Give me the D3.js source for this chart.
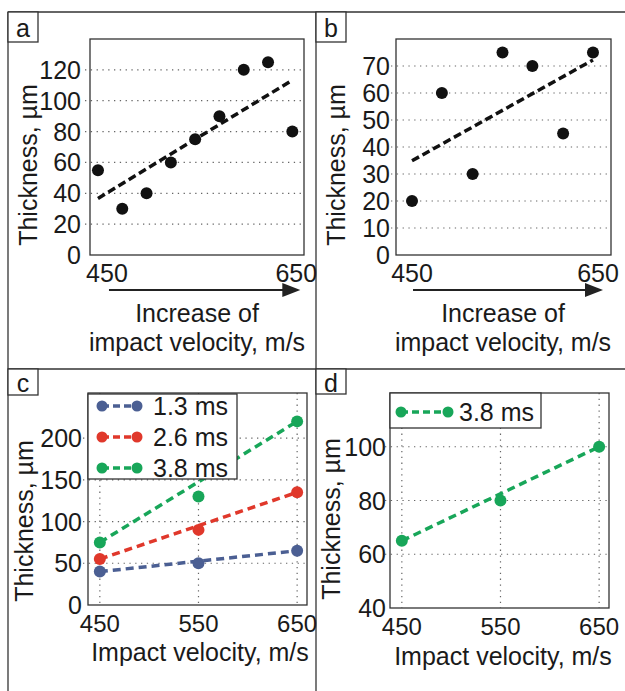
<!DOCTYPE html>
<html>
<head>
<meta charset="utf-8">
<script src="https://cdn.jsdelivr.net/npm/d3@7"></script>
<style>
  body { margin: 0; background: #fff; }
  text { font-family: "Liberation Sans", Arial, sans-serif; fill: #1a1a1a; }
</style>
</head>
<body>
<div id="wrapper"></div>
<script>
// data
const velA = [450, 475, 500, 525, 550, 575, 600, 625, 650];
const thickA = [55, 30, 40, 60, 75, 90, 120, 125, 80];
const velB = [450, 483, 517, 550, 583, 617, 650];
const thickB = [20, 60, 30, 75, 70, 45, 75];
const velC = [450, 550, 650];
const seriesC = ['1.3 ms', '2.6 ms', '3.8 ms'];
const thick13 = [40, 50, 65];
const thick26 = [55, 90, 135];
const thick38 = [75, 130, 220];
const thickD = [65, 80, 100];
const ticksA = [0, 20, 40, 60, 80, 100, 120];
const ticksB = [0, 10, 20, 30, 40, 50, 60, 70];
const ticksC = [0, 50, 100, 150, 200];
const ticksD = [40, 60, 80, 100];
const colors = ['#4b5f93', '#e0382b', '#18a659'];

const W = 625, H = 691;
const svg = d3.select('#wrapper').append('svg')
    .attr('width', W).attr('height', H);
svg.append('rect').attr('width', W).attr('height', H).attr('fill', '#fff');

// outer frame / panel dividers
const frame = svg.append('g').attr('stroke', '#333').attr('stroke-width', 1.3);
frame.append('line').attr('x1', 8).attr('x2', W).attr('y1', 12).attr('y2', 12);
frame.append('line').attr('x1', 8).attr('x2', W).attr('y1', 369).attr('y2', 369);
frame.append('line').attr('x1', 8).attr('x2', 8).attr('y1', 12).attr('y2', H);
frame.append('line').attr('x1', 316).attr('x2', 316).attr('y1', 12).attr('y2', H);

function panelLabel(x, y, h, t) {
    svg.append('rect').attr('x', x).attr('y', y).attr('width', 30).attr('height', h)
        .attr('fill', '#fff').attr('stroke', '#333').attr('stroke-width', 1.3);
    svg.append('text').attr('x', x + 15).attr('y', y + h / 2 + 1)
        .attr('text-anchor', 'middle').attr('dominant-baseline', 'central')
        .attr('font-size', 25).text(t);
}

function yTitle(x, y) {
    svg.append('text')
        .attr('transform', `translate(${x},${y}) rotate(-90)`)
        .attr('text-anchor', 'middle').attr('font-size', 25)
        .text('Thickness, µm');
}

function plotBox(g, x, y) {
    g.append('rect')
        .attr('x', x.range()[0]).attr('y', y.range()[1])
        .attr('width', x.range()[1] - x.range()[0])
        .attr('height', y.range()[0] - y.range()[1])
        .attr('fill', 'none').attr('stroke', '#333').attr('stroke-width', 1.3);
}

function hGrid(g, x, y, ticks, gap) {
    g.selectAll('.hgrid').data(ticks.filter(d => d !== y.domain()[0]))
        .join('line').attr('class', 'hgrid')
        .attr('x1', x.range()[0] - 5).attr('x2', x.range()[1])
        .attr('y1', d => y(d)).attr('y2', d => y(d))
        .attr('stroke', '#666').attr('stroke-width', 1.2)
        .attr('stroke-dasharray', '1.3,4.5');
    g.selectAll('.ylab').data(ticks).join('text').attr('class', 'ylab')
        .attr('x', x.range()[0] - gap).attr('y', d => y(d))
        .attr('dy', '0.36em').attr('text-anchor', 'end')
        .attr('font-size', 25).text(d => d);
}

function vGrid(g, x, y, ticks) {
    g.selectAll('.vgrid').data(ticks).join('line').attr('class', 'vgrid')
        .attr('x1', d => x(d)).attr('x2', d => x(d))
        .attr('y1', y.range()[1]).attr('y2', y.range()[0])
        .attr('stroke', '#666').attr('stroke-width', 1.2)
        .attr('stroke-dasharray', '1.3,4.5');
}

function fitLine(xs, ys) {
    const mx = d3.mean(xs), my = d3.mean(ys);
    const slope = d3.sum(xs, (v, i) => (v - mx) * (ys[i] - my)) / d3.sum(xs, v => (v - mx) * (v - mx));
    const ends = [xs[0], xs[xs.length - 1]];
    return ends.map(v => [v, my + slope * (v - mx)]);
}

// panels a and b: scatter + trend
function scatterPanel(cfg) {
    const g = svg.append('g');
    const x = d3.scaleLinear().domain(cfg.xDom).range(cfg.xr);
    const y = d3.scaleLinear().domain(cfg.yDom).range([255, 39]);
    hGrid(g, x, y, cfg.ticks, cfg.gap);
    plotBox(g, x, y);

    const trend = fitLine(cfg.vel, cfg.thick);
    g.append('path').datum(trend)
        .attr('d', d3.line().x(d => x(d[0])).y(d => y(d[1])))
        .attr('fill', 'none').attr('stroke', '#111').attr('stroke-width', 3.5)
        .attr('stroke-dasharray', '8,4');

    g.selectAll('.pt').data(cfg.vel).join('circle').attr('class', 'pt')
        .attr('cx', d => x(d)).attr('cy', (d, i) => y(cfg.thick[i]))
        .attr('r', 6).attr('fill', '#111');

    g.selectAll('.xlab').data([450, 650]).join('text').attr('class', 'xlab')
        .attr('x', (d, i) => x(d) + cfg.lblOff[i]).attr('y', 282)
        .attr('text-anchor', 'middle').attr('font-size', 25).text(d => d);

    // arrow
    const ax0 = x(450) + cfg.arrow[0], ax1 = x(650) + cfg.arrow[1];
    g.append('line').attr('x1', ax0).attr('x2', ax1 - 12).attr('y1', 290).attr('y2', 290)
        .attr('stroke', '#222').attr('stroke-width', 2.2);
    g.append('path')
        .attr('d', `M${ax1},290 L${ax1 - 18},283 L${ax1 - 18},297 Z`).attr('fill', '#222');

    g.append('text').attr('x', cfg.cx).attr('y', 322).attr('text-anchor', 'middle')
        .attr('font-size', 25).text('Increase of');
    g.append('text').attr('x', cfg.cx).attr('y', 351).attr('text-anchor', 'middle')
        .attr('font-size', 25).text('impact velocity, m/s');
}

scatterPanel({ vel: velA, thick: thickA, ticks: ticksA, xDom: [441.8, 662], xr: [90, 304],
    yDom: [0, 140], gap: 9, lblOff: [9, 4], arrow: [11, 8], cx: 197 });
scatterPanel({ vel: velB, thick: thickB, ticks: ticksB, xDom: [432.3, 669.9], xr: [396, 611],
    yDom: [0, 80], gap: 6, lblOff: [0, 5], arrow: [1, 10], cx: 503 });

// panels c and d: lines with markers
function linePanel(cfg) {
    const g = svg.append('g');
    const x = d3.scaleLinear().domain([438, 660]).range(cfg.xr);
    const y = d3.scaleLinear().domain(cfg.yDom).range(cfg.yr);
    hGrid(g, x, y, cfg.ticks, cfg.gap);
    vGrid(g, x, y, velC);
    plotBox(g, x, y);

    cfg.series.forEach((s, k) => {
        const pts = velC.map((v, i) => [v, s.values[i]]);
        g.append('path').datum([pts[0], pts[pts.length - 1]])
            .attr('d', d3.line().x(d => x(d[0])).y(d => y(d[1])))
            .attr('fill', 'none').attr('stroke', s.color).attr('stroke-width', 3.5)
            .attr('stroke-dasharray', '8,5');
        g.selectAll('.m' + k).data(pts).join('circle').attr('class', 'm' + k)
            .attr('cx', d => x(d[0])).attr('cy', d => y(d[1]))
            .attr('r', 6).attr('fill', s.color);
    });

    g.selectAll('.xlab').data(velC).join('text').attr('class', 'xlab')
        .attr('x', d => x(d)).attr('y', cfg.yr[0] + cfg.lblDy)
        .attr('text-anchor', 'middle').attr('font-size', 24).text(d => d);
    g.append('text').attr('x', cfg.cx).attr('y', cfg.titleY).attr('text-anchor', 'middle')
        .attr('font-size', 25).text('Impact velocity, m/s');

    // legend
    const L = cfg.legend;
    g.append('rect').attr('x', L.x).attr('y', L.y).attr('width', L.w).attr('height', L.h)
        .attr('fill', '#fff').attr('stroke', '#333').attr('stroke-width', 1.3);
    cfg.series.forEach((s, k) => {
        const ry = L.rows[k];
        g.append('line').attr('x1', L.l0).attr('x2', L.l1).attr('y1', ry).attr('y2', ry)
            .attr('stroke', s.color).attr('stroke-width', 3.5).attr('stroke-dasharray', '7,4');
        [L.l0, L.l1].forEach(px => g.append('circle').attr('cx', px).attr('cy', ry)
            .attr('r', 5.5).attr('fill', s.color));
        g.append('text').attr('x', L.tx).attr('y', ry).attr('dy', '0.36em')
            .attr('font-size', 25).text(s.name);
    });
}

linePanel({
    xr: [88, 307], yDom: [0, 254], yr: [605, 393], ticks: ticksC, gap: 6,
    lblDy: 27, cx: 200, titleY: 661,
    series: [
        { name: seriesC[0], values: thick13, color: colors[0] },
        { name: seriesC[1], values: thick26, color: colors[1] },
        { name: seriesC[2], values: thick38, color: colors[2] }
    ],
    legend: { x: 88, y: 394, w: 149, h: 85, rows: [406, 437, 468], l0: 102, l1: 137, tx: 153 }
});
linePanel({
    xr: [390, 609], yDom: [40, 120], yr: [608, 393], ticks: ticksD, gap: 4,
    lblDy: 27, cx: 503, titleY: 665,
    series: [{ name: seriesC[2], values: thickD, color: colors[2] }],
    legend: { x: 390, y: 393, w: 151, h: 35, rows: [412], l0: 401, l1: 448, tx: 459 }
});

panelLabel(8, 12, 30, 'a');
panelLabel(316, 12, 30, 'b');
panelLabel(8, 369, 26, 'c');
panelLabel(316, 369, 25, 'd');

yTitle(37, 165);
yTitle(345, 165);
yTitle(33, 521);
yTitle(340, 519);
</script>
</body>
</html>
